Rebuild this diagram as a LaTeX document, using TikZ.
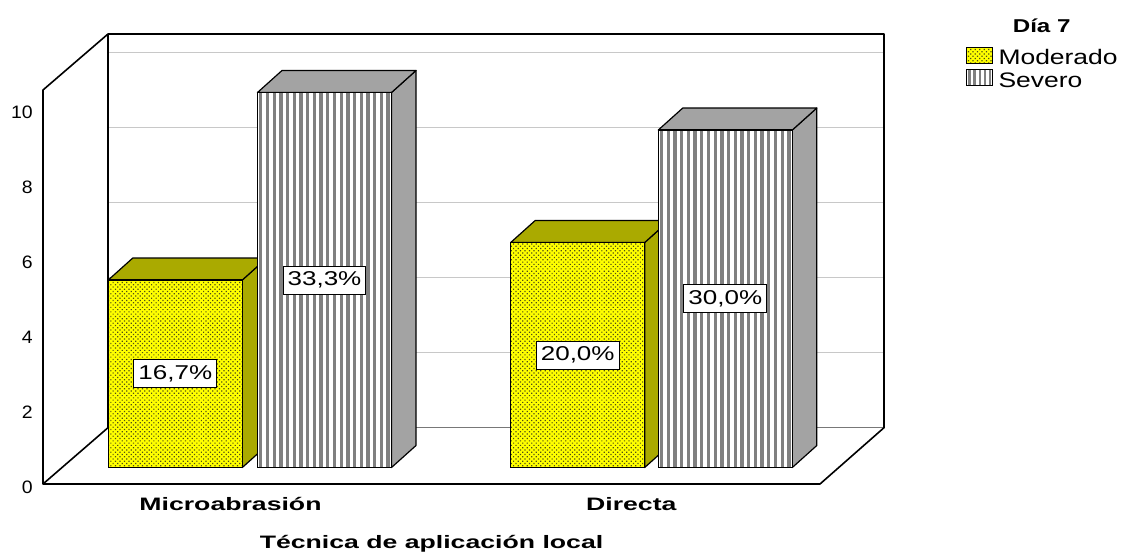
\documentclass[tikz,border=0pt]{standalone}
\usepackage{graphicx}
\usepackage{fontspec}
\setmainfont{Liberation Sans}
\usetikzlibrary{patterns.meta}
\definecolor{baryellow}{RGB}{255,255,0}
\definecolor{barolive}{RGB}{170,170,0}
\definecolor{bargray}{RGB}{163,163,163}
\definecolor{stripegray}{RGB}{128,128,128}
\definecolor{gridgray}{RGB}{200,200,200}
\definecolor{floorgray}{RGB}{120,120,120}
\definecolor{dotcol}{RGB}{80,80,20}
\newcommand\hs[2]{\scalebox{#1}[1]{#2}}
\newcommand\stripes[5]{% x0 y0 x1 y1 period
  \pgfmathsetmacro\sa{#1+1.6}%
  \pgfmathsetmacro\sb{#1+1.6+#5}%
  \pgfmathsetmacro\se{#3}%
  \pgfmathsetmacro\sw{0.5*#5}%
  \begin{scope}
    \clip (#1,#2) rectangle (\se,#4);
    \foreach \sx in {\sa,\sb,...,\se}
      \fill[stripegray] (\sx,#2) rectangle (\sx+\sw,#4);
  \end{scope}
}
\newcommand\mybar[4]{%
  \pgfmathsetmacro\bt{467.5-37.5*#2}%
  \path[#4] (#1+134,467.5) -- (#1+134,\bt) -- (#1+158.5,\bt-22) -- (#1+158.5,445.5) -- cycle;
  \path[#4] (#1,\bt) -- (#1+24.5,\bt-22) -- (#1+158.5,\bt-22) -- (#1+134,\bt) -- cycle;
  \ifx#3s
    \fill[white] (#1,467.5) rectangle (#1+134,\bt);
    \stripes{#1}{467.5}{#1+134}{\bt}{6.7}
    \draw[line width=1.2pt, black] (#1,467.5) rectangle (#1+134,\bt);
  \else
    \path[modfront] (#1,467.5) rectangle (#1+134,\bt);
  \fi
}
\tikzset{
  wall/.style={draw=black, line width=1.6pt, line join=round},
  gridln/.style={draw=gridgray, line width=1.4pt},
  modfront/.style={draw=black, line width=1.2pt, preaction={fill=baryellow},
    pattern={Dots[radius=0.85pt, distance=3.2pt, angle=45]}, pattern color=dotcol},
  modside/.style={draw=black, line width=1.2pt, fill=barolive, line join=round},
  sevside/.style={draw=black, line width=1.2pt, fill=bargray, line join=round},
  pct/.style={draw=black, fill=white, line width=1pt, inner xsep=4.5pt, inner ysep=0pt,
    minimum height=28pt, font=\fontsize{20}{21}\selectfont},
  tick/.style={anchor=base east, inner sep=0pt, font=\fontsize{18}{19}\selectfont},
  cat/.style={anchor=base, inner sep=0pt, font=\bfseries\fontsize{18}{19}\selectfont},
  leg/.style={anchor=base west, inner sep=0pt, font=\fontsize{21}{22}\selectfont},
}
\begin{document}
\begin{tikzpicture}[x=1pt, y=-1pt]
\useasboundingbox (0,0) rectangle (1122,554);
% back wall grid lines
\foreach \g in {52.7,127.7,202.7,277.7,352.7}
  \draw[gridln] (108,\g) -- (884,\g);
\draw[draw=floorgray, line width=1.2pt] (108,427.7) -- (884,427.7);
% walls and floor outline
\draw[wall] (43,484) -- (43,90) -- (108,34) -- (884,34) -- (884,427.7) -- (820,484) -- cycle;
\draw[wall] (108,34) -- (108,427.7);
\draw[wall] (43,484) -- (108,427.7);
% bars
\mybar{108.3}{5}{m}{modside}
\mybar{257.5}{10}{s}{sevside}
\mybar{510.7}{6}{m}{modside}
\mybar{658.3}{9}{s}{sevside}
% value labels
\node[pct] (l1) at (175.3,373.75) {\hs{1.3}{16,7\%}};
\node[pct] (l2) at (324.5,280) {\hs{1.3}{33,3\%}};
\node[pct] (l3) at (577.7,355) {\hs{1.3}{20,0\%}};
\node[pct] (l4) at (725.3,298.75) {\hs{1.3}{30,0\%}};
% y tick labels
\foreach \v in {0,2,4,6,8,10}
  \node[tick] (t\v) at (33,493.3-37.5*\v) {\hs{1.08}{\v}};
% category labels
\node[cat] (c1) at (230.5,510.7) {\hs{1.48}{Microabrasión}};
\node[cat] (c2) at (631.3,510.7) {\hs{1.48}{Directa}};
\node[cat] (xt) at (431.5,548) {\hs{1.48}{Técnica de aplicación local}};
% legend
\node[anchor=base, inner sep=0pt, font=\bfseries\fontsize{18.6}{19}\selectfont] (lt) at (1041.7,32.3) {\hs{1.3}{Día 7}};
\path[draw=black, line width=1pt, preaction={fill=baryellow},
  pattern={Dots[radius=0.85pt, distance=3.2pt, angle=45]}, pattern color=dotcol]
  (966.7,47.3) rectangle (992.3,63.5);
\fill[white] (966.7,69.5) rectangle (992.3,85.7);
\stripes{966.7}{69.5}{992.3}{85.7}{5.1}
\draw[black, line width=1pt] (966.7,69.5) rectangle (992.3,85.7);
\node[leg] (m) at (998.3,64) {\hs{1.26}{Moderado}};
\node[leg] (s) at (998.3,87.5) {\hs{1.26}{Severo}};
\end{tikzpicture}
\end{document}
